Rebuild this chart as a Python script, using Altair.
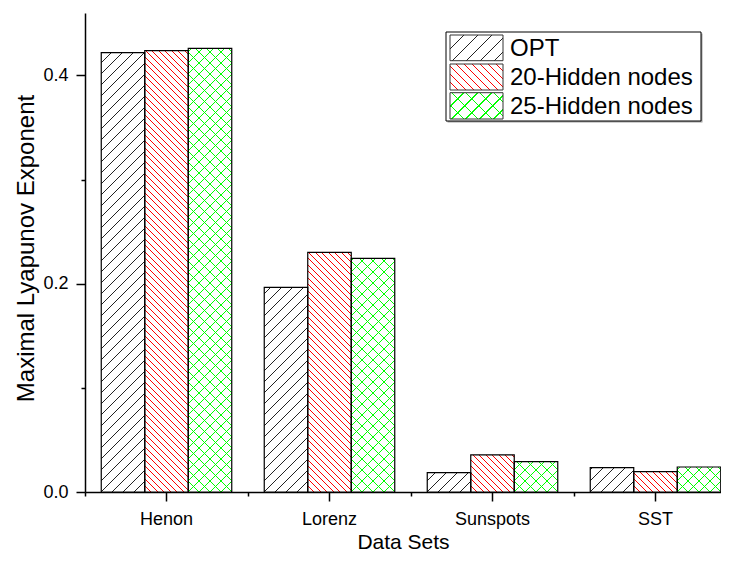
import altair as alt
import pandas as pd

# ---- data ----
datasets = ["Henon", "Lorenz", "Sunspots", "SST"]
series = ["OPT", "20-Hidden nodes", "25-Hidden nodes"]
opt_vals = [0.422, 0.1965, 0.0187, 0.0235]
h20_vals = [0.4238, 0.2302, 0.0356, 0.0196]
h25_vals = [0.426, 0.2244, 0.0292, 0.0240]
y_major = [0.0, 0.2, 0.4]
y_minor = [0.1, 0.3]

rows = []
for i, d in enumerate(datasets):
    for s, vals in zip(series, [opt_vals, h20_vals, h25_vals]):
        rows.append({"dataset": d, "series": s, "value": vals[i]})
df = pd.DataFrame(rows)
leg_df = pd.DataFrame({"series": series})
box_df = pd.DataFrame({"k": [0]})

# ---- layout / style ----
PLOT_W, PLOT_H, YMAX = 636, 479, 0.46
XRANGE = 652
BAND = XRANGE / len(datasets)
PAD_OUT = 0.3736
BAR_W = BAND / (len(series) + 2 * PAD_OUT)
PX = PLOT_H / YMAX
FONT = "Liberation Sans"
CLEAR = "rgba(255,255,255,0)"

# hatch: (direction, colour, period in px, background)
styles = {
    "OPT": [("/", "#222222", 11, "white")],
    "20-Hidden nodes": [("\\", "#ff0000", 6.5, "white")],
    "25-Hidden nodes": [("/", "#00ff00", 11, "white"), ("\\", "#00ff00", 11, CLEAR)],
}
leg_styles = {
    "OPT": [("/", "#222222", 14, "white")],
    "20-Hidden nodes": [("\\", "#ff0000", 8, "white")],
    "25-Hidden nodes": [("/", "#00ff00", 14, "white"), ("\\", "#00ff00", 14, CLEAR)],
}
seg_px = {"OPT": 44, "20-Hidden nodes": 39, "25-Hidden nodes": 44}


def hatch(w, h, period, color, bg, direction, phase=0.0, lw=1.3):
    total = w + h
    s = total / (w * w + h * h)
    if direction == "/":
        x1, y1, x2, y2 = 0, 0, s * w, s * h
    else:
        x1, y1, x2, y2 = 0, 1, s * w, 1 - s * h
    stops = [{"offset": 0, "color": bg}]
    u = (phase % period) - period
    while u < total + period:
        a = (u - lw / 2) / total
        b = (u + lw / 2) / total
        if b > 0 and a < 1:
            a = round(max(a, 0), 6)
            b = round(min(b, 1), 6)
            stops += [
                {"offset": a, "color": bg},
                {"offset": a, "color": color},
                {"offset": b, "color": color},
                {"offset": b, "color": bg},
            ]
        u += period
    stops.append({"offset": 1, "color": bg})
    return {"gradient": "linear", "x1": x1, "y1": y1, "x2": x2, "y2": y2, "stops": stops}


# split each bar into equal-height pieces so every gradient stays short
seg_rows = []
for _, r in df.iterrows():
    hs = seg_px[r["series"]]
    h = r["value"] * PX
    nfull = int(h // hs)
    for k in range(nfull):
        seg_rows.append({"dataset": r["dataset"], "series": r["series"], "kind": "full",
                         "y0": k * hs / PX, "y1": (k + 1) * hs / PX})
    seg_rows.append({"dataset": r["dataset"], "series": r["series"], "kind": "rem",
                     "y0": nfull * hs / PX, "y1": r["value"], "hr": h - nfull * hs})
seg_df = pd.DataFrame(seg_rows)

x_main = alt.Axis(orient="bottom", tickSize=9, tickWidth=1.5, domainWidth=1.5,
                  labelFontSize=18, labelPadding=9, labelAngle=0, title="Data Sets",
                  titleFontSize=21, titleX=318, titleY=56, titleAlign="center",
                  titleBaseline="alphabetic", grid=False)
x_minor = alt.Axis(orient="bottom", bandPosition=0, tickSize=4, tickWidth=1.5,
                   labels=False, domain=False, title=None, grid=False)
y_main = alt.Axis(orient="left", values=y_major, format=".1f", tickSize=9, tickWidth=1.5,
                  domainWidth=1.5, labelFontSize=18, labelPadding=8,
                  title="Maximal Lyapunov Exponent", titleFontSize=24, titleX=-51.7,
                  titleY=235, titleAlign="center", titleBaseline="alphabetic", grid=False)
y_minor_ax = alt.Axis(orient="left", values=y_minor, tickSize=4, tickWidth=1.5,
                      labels=False, domain=False, title=None, grid=False)

x_scale = alt.Scale(domain=datasets, range=[0, XRANGE], paddingInner=0, paddingOuter=0)
xo_scale = alt.Scale(domain=series, paddingOuter=PAD_OUT, paddingInner=0)
y_scale = alt.Scale(domain=[0, YMAX], nice=False, zero=True)


def seg_enc(chart):
    return chart.encode(
        x=alt.X("dataset:N", scale=x_scale, axis=None),
        xOffset=alt.XOffset("series:N", scale=xo_scale),
        y=alt.Y("y0:Q", scale=y_scale, axis=None),
        y2="y1:Q",
    )


layers = []
for s in series:
    hs = seg_px[s]
    for (dirn, col, per, bg) in styles[s]:
        # full pieces: identical gradient for every bar of this series
        grad = hatch(BAR_W, hs, per, col, bg, dirn, 0.0)
        layers.append(seg_enc(
            alt.Chart(seg_df)
            .transform_filter(f"datum.series == '{s}' && datum.kind == 'full'")
            .mark_bar(fill=grad, strokeWidth=0)
        ))
        # top remainder of each bar, phase-matched to the pieces below
        sub = seg_df[(seg_df["series"] == s) & (seg_df["kind"] == "rem")]
        for _, r in sub.iterrows():
            hr = float(r["hr"])
            phase = hr if dirn == "/" else 0.0
            grad = hatch(BAR_W, hr, per, col, bg, dirn, phase)
            layers.append(seg_enc(
                alt.Chart(seg_df)
                .transform_filter(f"datum.series == '{s}' && datum.kind == 'rem' && datum.dataset == '{r['dataset']}'")
                .mark_bar(fill=grad, strokeWidth=0)
            ))

# outlines of the bars, carrying the axes
layers.append(
    alt.Chart(df).mark_bar(fillOpacity=0, stroke="black", strokeWidth=1.2).encode(
        x=alt.X("dataset:N", scale=x_scale, axis=x_main),
        xOffset=alt.XOffset("series:N", scale=xo_scale),
        y=alt.Y("value:Q", scale=y_scale, axis=y_main),
    )
)
layers.append(
    alt.Chart(df).mark_bar(fillOpacity=0, strokeWidth=0).encode(
        x=alt.X("dataset:N", scale=x_scale, axis=x_minor),
        xOffset=alt.XOffset("series:N", scale=xo_scale),
        y=alt.Y("value:Q", scale=y_scale, axis=y_minor_ax),
    )
)

# ---- legend (inside the plot, top right) ----
layers.append(alt.Chart(box_df).mark_rect(fill="#a0a0a0").encode(
    x=alt.value(362.5), x2=alt.value(617.5), y=alt.value(20.5), y2=alt.value(109.5)))
layers.append(alt.Chart(box_df).mark_rect(fill="white", stroke="black", strokeWidth=1).encode(
    x=alt.value(361), x2=alt.value(616), y=alt.value(19), y2=alt.value(108)))
rows_y = [(22, 47.7), (51, 77), (79.7, 106)]
for s, (ya0, ya1) in zip(series, rows_y):
    st = leg_styles[s]
    for j, (dirn, col, per, bg) in enumerate(st):
        grad = hatch(53, ya1 - ya0, per, col, bg, dirn, 0.0, lw=1.5)
        kw = {"fill": grad}
        if j == len(st) - 1:
            kw.update(stroke="#333333", strokeWidth=1)
        else:
            kw.update(strokeWidth=0)
        layers.append(alt.Chart(box_df).mark_rect(**kw).encode(
            x=alt.value(365), x2=alt.value(418), y=alt.value(ya0), y2=alt.value(ya1)))
    layers.append(
        alt.Chart(leg_df)
        .transform_filter(f"datum.series == '{s}'")
        .mark_text(align="left", baseline="middle", fontSize=24, font=FONT, color="black")
        .encode(x=alt.value(425), y=alt.value((ya0 + ya1) / 2 + 1), text="series:N")
    )

chart = (
    alt.layer(*layers)
    .resolve_axis(x="independent", y="independent")
    .properties(
        width=PLOT_W,
        height=PLOT_H,
        autosize=alt.AutoSizeParams(type="none"),
        padding={"left": 77, "top": 5, "right": 0, "bottom": 61},
        background="white",
    )
    .configure_view(stroke=None)
    .configure_axis(labelFont=FONT, titleFont=FONT, titleFontWeight="normal",
                    labelColor="black", titleColor="black", domainColor="black",
                    tickColor="black")
)

chart.save("out.html", embed_options={"renderer": "svg", "actions": False})
